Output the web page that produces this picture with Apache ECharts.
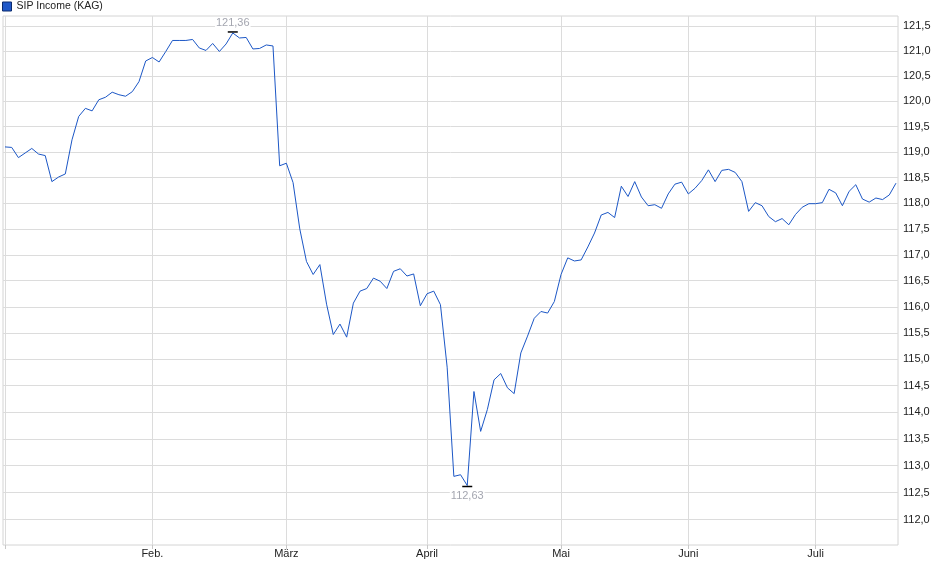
<!DOCTYPE html>
<html>
<head>
<meta charset="utf-8">
<script src="https://cdn.jsdelivr.net/npm/echarts@6/dist/echarts.min.js"></script>
<style>
  html, body { margin: 0; padding: 0; background: #fff; }
  #chart { width: 940px; height: 579px; }
</style>
</head>
<body>
<div id="chart"></div>
<script>
// closing prices, one per trading day (Jan - Jul)
var prices = [
  119.10, 119.09, 118.89, 118.98, 119.07, 118.96, 118.93, 118.42, 118.51, 118.57,
  119.24, 119.70, 119.86, 119.81, 120.03, 120.08, 120.18, 120.13, 120.10, 120.19,
  120.39, 120.80, 120.87, 120.78, 120.99, 121.21, 121.21, 121.21, 121.23, 121.06,
  121.01, 121.15, 120.99, 121.14, 121.36, 121.26, 121.27, 121.04, 121.05, 121.12,
  121.10, 118.73, 118.78, 118.40, 117.50, 116.87, 116.62, 116.81, 116.05, 115.47,
  115.67, 115.42, 116.07, 116.30, 116.35, 116.55, 116.49, 116.35, 116.68, 116.73,
  116.59, 116.63, 116.02, 116.25, 116.30, 116.04, 114.85, 112.80, 112.83, 112.63,
  114.39, 113.64, 114.05, 114.61, 114.73, 114.46, 114.35, 115.12, 115.44, 115.78,
  115.91, 115.88, 116.10, 116.62, 116.94, 116.88, 116.90, 117.15, 117.42, 117.77,
  117.82, 117.72, 118.33, 118.13, 118.42, 118.12, 117.95, 117.97, 117.90, 118.18,
  118.37, 118.41, 118.18, 118.29, 118.44, 118.65, 118.42, 118.64, 118.66, 118.60,
  118.42, 117.84, 118.01, 117.95, 117.74, 117.64, 117.70, 117.58, 117.78, 117.92,
  117.99, 117.99, 118.01, 118.27, 118.20, 117.95, 118.23, 118.36, 118.08, 118.02,
  118.10, 118.07, 118.16, 118.39
];

// month labels and the trading-day index where each month begins
var monthNames = ['Feb.', 'März', 'April', 'Mai', 'Juni', 'Juli'];
var monthStarts = [22, 42, 63, 83, 102, 121];

// price axis (log scale) tick labels and range
var yTicks = [112.0, 112.5, 113.0, 113.5, 114.0, 114.5, 115.0, 115.5, 116.0, 116.5,
  117.0, 117.5, 118.0, 118.5, 119.0, 119.5, 120.0, 120.5, 121.0, 121.5];
var yMin = 111.53;
var yMax = 121.70;

var seriesName = 'SIP Income (KAG)';

function deNum(v, digits) {
  return v.toFixed(digits).replace('.', ',');
}

// the price axis is logarithmic: plot ln(price) on a value axis
var lineData = prices.map(function (p, i) { return [i, Math.log(p)]; });
var logTicks = yTicks.map(function (t) { return Math.log(t); });

var chart = echarts.init(document.getElementById('chart'), null, { renderer: 'canvas' });

var option = {
  animation: false,
  backgroundColor: '#fff',
  textStyle: { fontFamily: 'Liberation Sans, Arial, sans-serif' },
  legend: {
    left: 2,
    top: 1,
    padding: 0,
    itemWidth: 9,
    itemHeight: 9,
    textStyle: { fontSize: 10.5, color: '#222' },
    data: [{
      name: seriesName,
      icon: 'rect',
      itemStyle: { color: '#2058c8', borderColor: '#0b2a6e', borderWidth: 1 }
    }]
  },
  grid: {
    left: 3,
    right: 42,
    top: 16,
    bottom: 34,
    show: true,
    borderColor: '#d4d4d4',
    borderWidth: 1,
    backgroundColor: 'transparent'
  },
  xAxis: {
    type: 'value',
    min: -0.3,
    max: prices.length - 1 + 0.3,
    axisLine: { show: false },
    axisTick: {
      show: true,
      length: 4,
      customValues: [0].concat(monthStarts),
      lineStyle: { color: '#c8c8c8' }
    },
    axisLabel: {
      customValues: monthStarts,
      margin: 3,
      fontSize: 11,
      color: '#222',
      formatter: function (v) {
        var k = monthStarts.indexOf(Math.round(v));
        return k >= 0 ? monthNames[k] : '';
      }
    },
    splitLine: { show: true, lineStyle: { color: '#dcdcdc', width: 1 } }
  },
  yAxis: {
    type: 'value',
    position: 'right',
    min: Math.log(yMin),
    max: Math.log(yMax),
    axisLine: { show: false },
    axisTick: { show: false, customValues: logTicks },
    axisLabel: {
      customValues: logTicks,
      margin: 5,
      fontSize: 11,
      color: '#222',
      formatter: function (v) { return deNum(Math.exp(v), 1); }
    },
    splitLine: { show: true, lineStyle: { color: '#dcdcdc', width: 1 } }
  },
  series: [{
    name: seriesName,
    type: 'line',
    data: lineData,
    symbol: 'none',
    lineStyle: { color: '#1c57c6', width: 1 },
    itemStyle: { color: '#1c57c6' },
    markPoint: {
      symbol: 'rect',
      symbolSize: [10, 1.5],
      itemStyle: { color: '#000' },
      label: {
        show: true,
        fontSize: 11,
        color: '#a4a6b0',
        backgroundColor: '#fff',
        padding: [0, 1],
        formatter: function (p) { return deNum(Math.exp(p.value), 2); }
      },
      data: [
        { type: 'max', valueDim: 'y', symbolOffset: [0, -1], label: { position: 'top', distance: 3 } },
        { type: 'min', valueDim: 'y', symbolOffset: [0, 1], label: { position: 'bottom', distance: 3 } }
      ]
    }
  }]
};

chart.setOption(option);
</script>
</body>
</html>
